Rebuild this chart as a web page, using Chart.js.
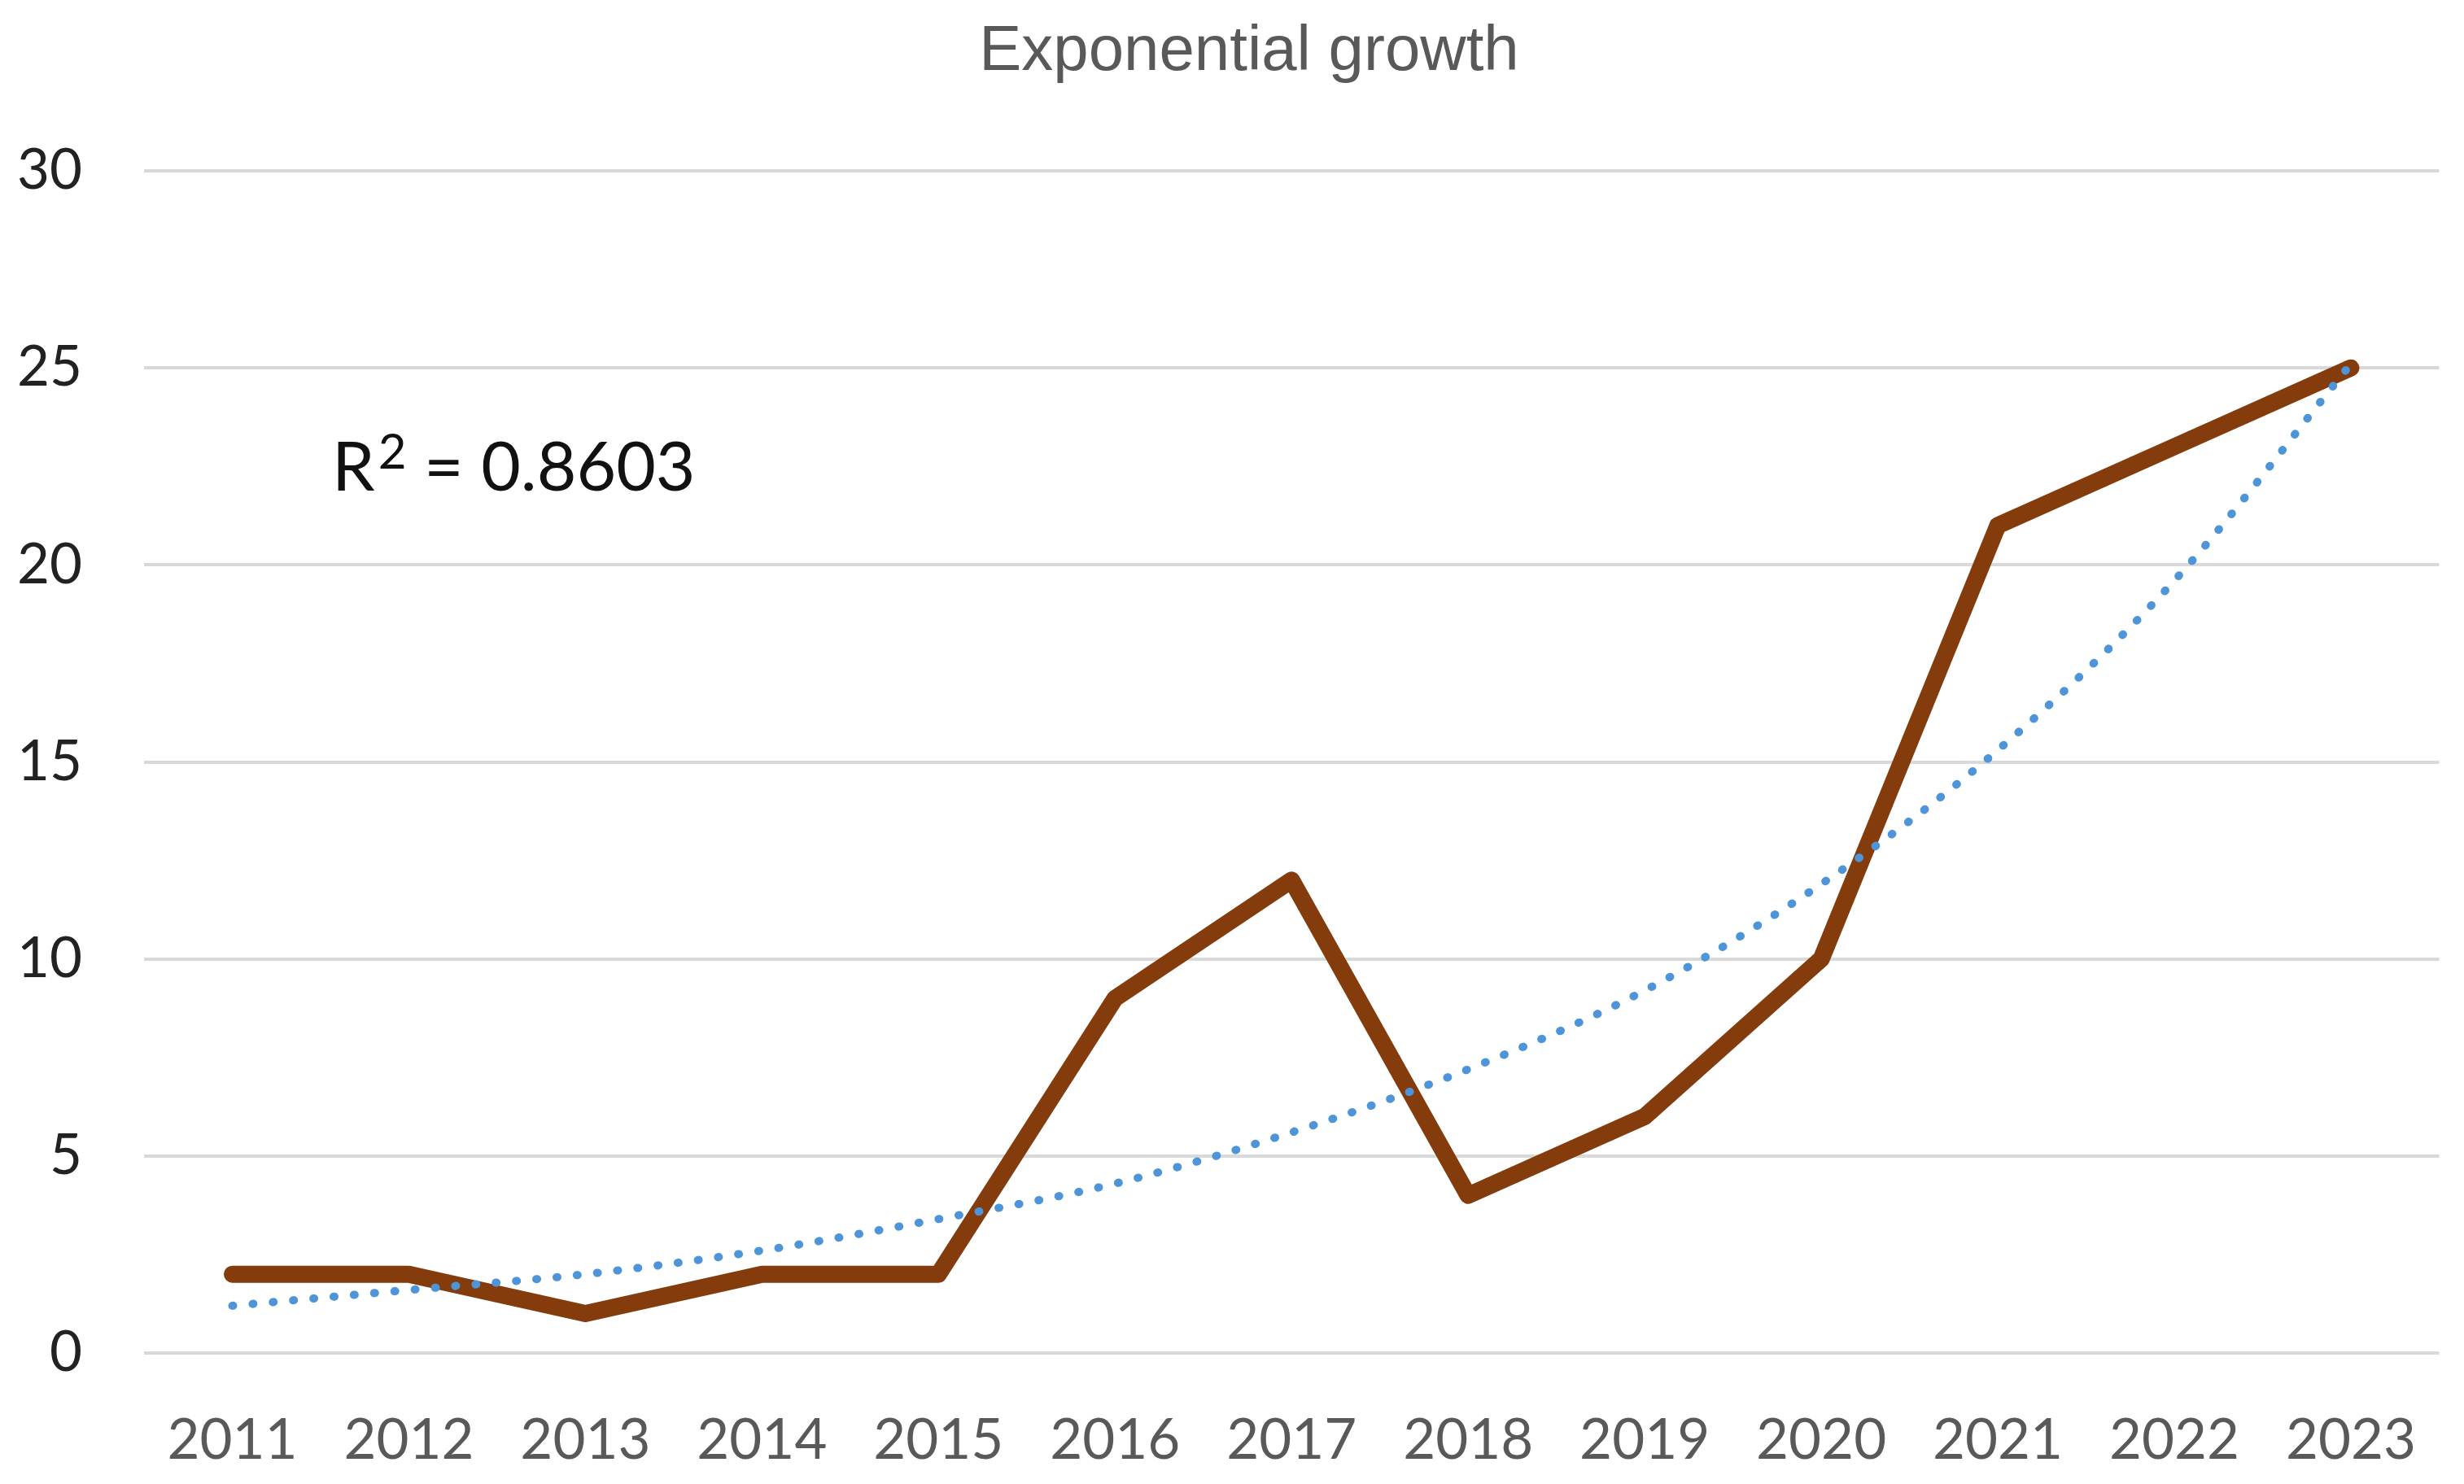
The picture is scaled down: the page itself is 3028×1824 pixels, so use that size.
<!DOCTYPE html>
<html>
<head>
<meta charset="utf-8">
<script src="https://cdn.jsdelivr.net/npm/chart.js@4/dist/chart.umd.min.js"></script>
<style>
  html, body { margin: 0; padding: 0; background: #fff; }
  #wrap { width: 3028px; height: 1824px; }
</style>
</head>
<body>
<div id="wrap"><canvas id="target-growth-linechart"></canvas></div>
<script>
'use strict';

// データ
const years = ['2011', '2012', '2013', '2014', '2015', '2016', '2017', '2018', '2019', '2020', '2021', '2022', '2023'];
const values = [2, 2, 1, 2, 2, 9, 12, 4, 6, 10, 21, 23, 25];
// 指数近似の線
const trend_values = [1.2, 1.6, 2.0, 2.6, 3.4, 4.3, 5.6, 7.2, 9.2, 11.9, 15.3, 19.6, 25.1];
const y_ticks = [0, 5, 10, 15, 20, 25, 30];
const chart_title = 'Exponential growth';
const r2_text = '0.8603';

// タイトル（グラフ全体の中央より少し右に置く）
const title_label = {
  id: 'title_label',
  afterDraw(chart) {
    const ctx = chart.ctx;
    ctx.save();
    ctx.fillStyle = '#595959';
    ctx.font = '78px "Liberation Sans"';
    ctx.textAlign = 'center';
    ctx.textBaseline = 'alphabetic';
    ctx.fillText(chart_title, chart.width / 2 + 21, 86);
    ctx.restore();
  }
};

// R²のラベル
const r2_label = {
  id: 'r2_label',
  afterDatasetsDraw(chart) {
    const ctx = chart.ctx;
    const area = chart.chartArea;
    let x = area.left + 231;
    const y = area.top + 393;
    ctx.save();
    ctx.fillStyle = '#111';
    ctx.textBaseline = 'alphabetic';
    ctx.font = '84px Lato';
    ctx.fillText('R', x, y);
    x += ctx.measureText('R').width + 4;
    ctx.font = '60px Lato';
    ctx.fillText('2', x, y - 27);
    x += ctx.measureText('2').width;
    ctx.font = '84px Lato';
    ctx.fillText(' = ' + r2_text, x, y);
    ctx.restore();
  }
};

var ctx = document.querySelector('#target-growth-linechart').getContext('2d');
var lineChart = new Chart(ctx, {
  type: 'line',
  data: {
    labels: years,
    datasets: [
      {
        label: 'trend',
        data: trend_values,
        borderColor: '#4d94d8',
        borderWidth: 10,
        borderDash: [1, 24],
        borderCapStyle: 'round',
        cubicInterpolationMode: 'monotone',
        pointRadius: 0,
        order: 0,
      },
      {
        label: 'value',
        data: values,
        borderColor: '#843c0c',
        borderWidth: 21,
        borderCapStyle: 'round',
        borderJoinStyle: 'round',
        tension: 0,
        pointRadius: 0,
        order: 1,
      },
    ],
  },
  options: {
    responsive: true,
    maintainAspectRatio: false,
    animation: false,
    devicePixelRatio: 1,
    layout: { padding: { left: 0, right: 25, top: 210, bottom: 0 } },
    plugins: {
      legend: { display: false },
      tooltip: { enabled: false },
      title: { display: false },
    },
    scales: {
      x: {
        offset: true,
        grid: { display: false },
        border: { display: false },
        ticks: {
          color: '#595959',
          font: { family: 'Lato', size: 69 },
          padding: 58,
          maxRotation: 0,
          autoSkip: false,
        },
        afterFit: (s) => { s.height = 161; },
      },
      y: {
        min: 0,
        max: 30,
        afterBuildTicks: (s) => { s.ticks = y_ticks.map(v => ({ value: v })); },
        grid: { color: '#d9d9d9', lineWidth: 4, drawTicks: false },
        border: { display: false },
        ticks: {
          color: '#222',
          font: { family: 'Lato', size: 69 },
          padding: 76,
        },
        afterFit: (s) => { s.width = 177; },
      },
    },
  },
  plugins: [title_label, r2_label],
});
</script>
</body>
</html>
